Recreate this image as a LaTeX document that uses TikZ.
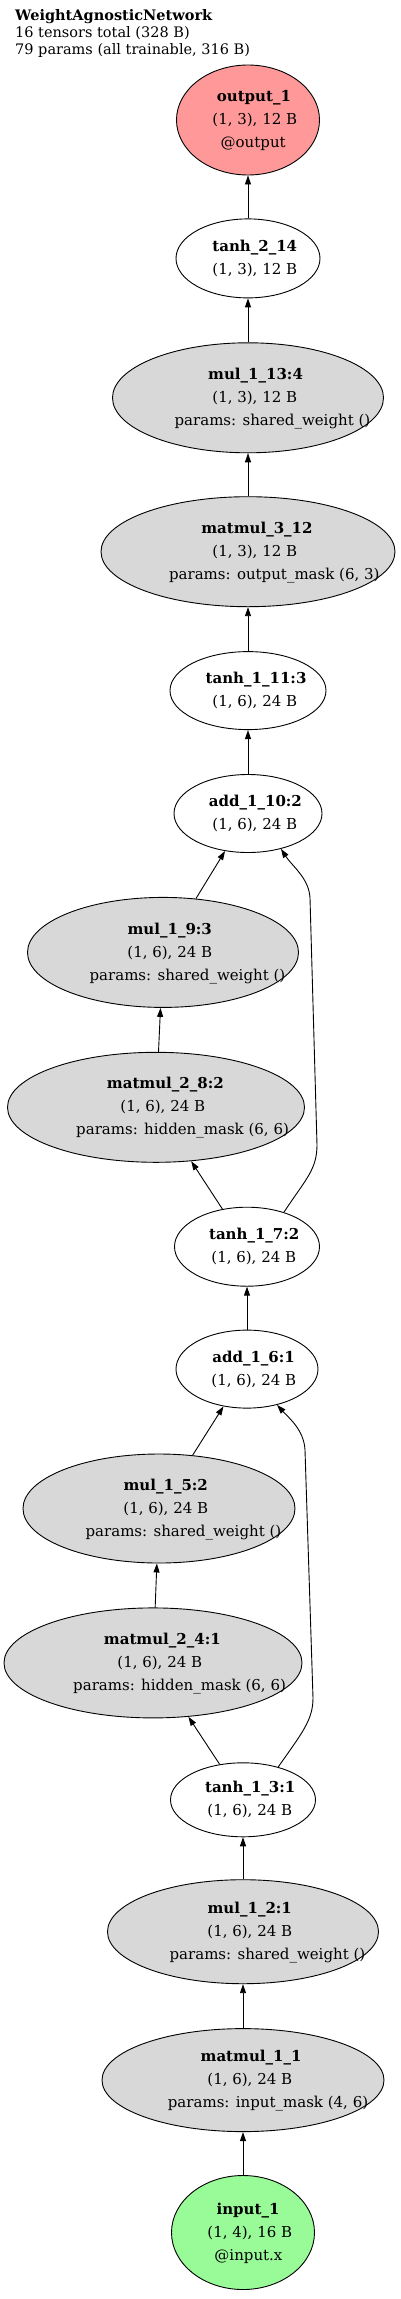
\documentclass[tikz,border=0pt]{standalone}
\usepackage{fontspec}
\setmainfont{DejaVu Serif}
\usepackage{tikz}
\usetikzlibrary{positioning,shapes.geometric,arrows.meta}
\definecolor{outred}{HTML}{FF9999}
\definecolor{ingreen}{HTML}{98FB98}
\definecolor{opgray}{HTML}{D8D8D8}
\newlength\linewd
\newcommand\shline[2][0.16]{\settowidth\linewd{#2}\hspace*{#1\linewd}#2}
\newcommand\threelines[3]{\makebox[0pt]{\begin{tabular}{@{}c@{}}\shline{\textbf{#1}}\\\shline{#2}\\\shline{#3}\end{tabular}}}
\newcommand\oplines[3]{\makebox[0pt]{\begin{tabular}{@{}c@{}}\shline{\textbf{#1}}\\\shline{#2}\\\shline[0.25]{params: #3}\end{tabular}}}
\newcommand\twolines[2]{\makebox[0pt]{\begin{tabular}{@{}c@{}}\shline{\textbf{#1}}\\\shline{#2}\end{tabular}}}

\begin{document}
\begin{tikzpicture}[x=1pt, y=-1pt, node distance=44pt]
      \tikzset{
          every node/.style={font=\fontsize{15pt}{23pt}\selectfont},
          tensor/.style={ellipse, draw=black, line width=0.9pt, fill=white, inner sep=0pt, minimum height=78pt},
          opnode/.style={tensor, fill=opgray, minimum height=110pt},
          outnode/.style={tensor, fill=outred, minimum height=110pt},
          innode/.style={tensor, fill=ingreen, minimum height=114pt},
          myarrow/.style={draw, line width=0.9pt, -{Triangle[length=9pt, width=6pt]}},
      }
      \useasboundingbox (0,0) rectangle (400,2299);

      \node (title) [anchor=north west, align=left, inner sep=0pt, font=\fontsize{14.5pt}{17pt}\selectfont] at (15,9)
          {\textbf{WeightAgnosticNetwork}\\16 tensors total (328 B)\\79 params (all trainable, 316 B)};

      \node[outnode, minimum width=143pt] (output1) at (248,120) {\threelines{output\_1}{(1, 3), 12 B}{@output}};
      \node[tensor, minimum width=144pt, minimum height=79pt, below=43pt of output1] (tanh214) {\twolines{tanh\_2\_14}{(1, 3), 12 B}};
      \node[opnode, minimum width=271pt, below=of tanh214] (mul113) {\oplines{mul\_1\_13:4}{(1, 3), 12 B}{shared\_weight ()}};
      \node[opnode, minimum width=294pt, below=43pt of mul113] (matmul312) {\oplines{matmul\_3\_12}{(1, 3), 12 B}{output\_mask (6, 3)}};
      \node[tensor, minimum width=156pt, below=of matmul312] (tanh111) {\twolines{tanh\_1\_11:3}{(1, 6), 24 B}};
      \node[tensor, minimum width=148pt, below=of tanh111] (add110) {\twolines{add\_1\_10:2}{(1, 6), 24 B}};
      \node[opnode, minimum width=271pt, below=of add110, xshift=-85pt] (mul19) {\oplines{mul\_1\_9:3}{(1, 6), 24 B}{shared\_weight ()}};
      \node[opnode, minimum width=297pt, below=of mul19, xshift=-7pt] (matmul28) {\oplines{matmul\_2\_8:2}{(1, 6), 24 B}{hidden\_mask (6, 6)}};
      \node[tensor, minimum width=145pt, minimum height=79pt, below=of matmul28, xshift=91pt] (tanh17) {\twolines{tanh\_1\_7:2}{(1, 6), 24 B}};
      \node[tensor, minimum width=142pt, below=43pt of tanh17] (add16) {\twolines{add\_1\_6:1}{(1, 6), 24 B}};
      \node[opnode, minimum width=272pt, minimum height=109pt, below=45pt of add16, xshift=-88pt] (mul15) {\oplines{mul\_1\_5:2}{(1, 6), 24 B}{shared\_weight ()}};
      \node[opnode, minimum width=298pt, below=of mul15, xshift=-6pt] (matmul24) {\oplines{matmul\_2\_4:1}{(1, 6), 24 B}{hidden\_mask (6, 6)}};
      \node[tensor, minimum width=145pt, minimum height=74pt, below=of matmul24, xshift=90pt] (tanh13) {\twolines{tanh\_1\_3:1}{(1, 6), 24 B}};
      \node[opnode, minimum width=271pt, minimum height=104pt, below=42pt of tanh13] (mul12) {\oplines{mul\_1\_2:1}{(1, 6), 24 B}{shared\_weight ()}};
      \node[opnode, minimum width=282pt, minimum height=103pt, below=of mul12] (matmul11) {\oplines{matmul\_1\_1}{(1, 6), 24 B}{input\_mask (4, 6)}};
      \node[innode, minimum width=143pt, below=43pt of matmul11] (input1) {\threelines{input\_1}{(1, 4), 16 B}{@input.x}};

      \path[myarrow] (tanh214) -- (output1);
      \path[myarrow] (mul113) -- (tanh214);
      \path[myarrow] (matmul312) -- (mul113);
      \path[myarrow] (tanh111) -- (matmul312);
      \path[myarrow] (add110) -- (tanh111);
      \path[myarrow] (mul19) -- (add110);
      \path[myarrow] (matmul28) -- (mul19);
      \path[myarrow] (tanh17) -- (matmul28);
      \path[myarrow] (tanh17.43) .. controls (305,1180) and (317,1170) .. (317,1145) -- (310,898) .. controls (309,878) and (292,866) .. (add110.-47);
      \path[myarrow] (add16) -- (tanh17);
      \path[myarrow] (mul15) -- (add16);
      \path[myarrow] (matmul24) -- (mul15);
      \path[myarrow] (tanh13) -- (matmul24);
      \path[myarrow] (tanh13.43) .. controls (302,1733) and (313,1720) .. (313,1698) -- (305,1450) .. controls (304,1430) and (289,1418) .. (add16.-50);
      \path[myarrow] (mul12) -- (tanh13);
      \path[myarrow] (matmul11) -- (mul12);
      \path[myarrow] (input1) -- (matmul11);

\end{tikzpicture}
\end{document}
